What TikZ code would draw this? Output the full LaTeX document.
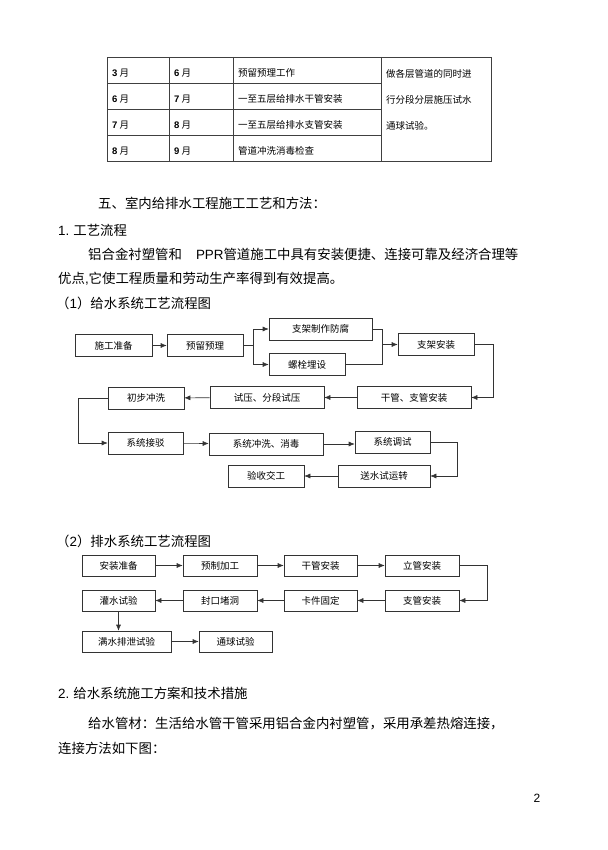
\documentclass[tikz,border=0pt]{standalone}
\usepackage{fontspec}
\setmainfont{Noto Sans CJK SC}
\newfontfamily\latin{Liberation Sans}
\usetikzlibrary{positioning,arrows.meta}

\tikzset{
  flowbox/.style={draw=black!80, line width=0.6pt, minimum height=22pt, inner sep=0pt, font=\fontsize{9.5}{10}\selectfont},
  flowline/.style={draw=black!80, line width=0.6pt, -{Latex[length=6pt,width=5pt]}},
  tableline/.style={draw=black!75, line width=0.7pt},
  bodytext/.style={anchor=west, inner sep=0pt, font=\fontsize{13.4}{14}\selectfont},
  celltext/.style={anchor=west, inner sep=0pt, font=\fontsize{9.5}{10}\selectfont},
}

\begin{document}
\begin{tikzpicture}[x=1pt, y=-1pt]
  \useasboundingbox (0,0) rectangle (607,850);
  \fill [white] (0,0) rectangle (607,850);

  % schedule table
  \draw [tableline] (107,57) rectangle (491,161);
  \draw [tableline] (169,57) -- (169,161) (233,57) -- (233,161) (381,57) -- (381,161);
  \draw [tableline] (107,83) -- (381,83) (107,109) -- (381,109) (107,135) -- (381,135);
  \foreach \a/\b/\w [count=\r] in {3/6/预留预理工作, 6/7/一至五层给排水干管安装, 7/8/一至五层给排水支管安装, 8/9/管道冲洗消毒检查} {
    \node [celltext] (start\r) at (112,{47+26*\r}) {{\latin\bfseries \a} 月};
    \node [celltext] (end\r) at (174,{47+26*\r}) {{\latin\bfseries \b} 月};
    \node [celltext] (work\r) at (238,{47+26*\r}) {\w};
  }
  \node [celltext] (note1) at (386,74) {做各层管道的同时进};
  \node [celltext] (note2) at (386,100) {行分段分层施压试水};
  \node [celltext] (note3) at (386,126) {通球试验。};

  % body text
  \node [bodytext] (sec5) at (98,203) {五、室内给排水工程施工工艺和方法：};
  \node [bodytext] (sub1) at (58,230) {{\latin 1.} 工艺流程};
  \node [bodytext] (para1) at (88,254) {铝合金衬塑管和\hspace{14pt}{\latin PPR}管道施工中具有安装便捷、连接可靠及经济合理等};
  \node [bodytext] (para2) at (58,279) {优点{\latin ,}它使工程质量和劳动生产率得到有效提高。};
  \node [bodytext] (cap1) at (56,303) {（{\latin 1}）给水系统工艺流程图};

  % water supply flow
  \node [flowbox, minimum width=77pt] (prep) at (113.5,345.5) {施工准备};
  \node [flowbox, minimum width=76pt] (embed) at (205,345.5) {预留预理};
  \node [flowbox, minimum width=103pt] (bracketmake) at (320.5,329) {支架制作防腐};
  \node [flowbox, minimum width=76pt] (boltset) at (307,364.5) {螺栓埋设};
  \node [flowbox, minimum width=76pt] (bracket) at (436,344.5) {支架安装};
  \node [flowbox, minimum width=114pt] (mainpipe) at (414,397.5) {干管、支管安装};
  \node [flowbox, minimum width=114pt] (pressure) at (267,397.5) {试压、分段试压};
  \node [flowbox, minimum width=76pt] (preflush) at (146,398) {初步冲洗};
  \node [flowbox, minimum width=75pt] (connect) at (145.5,443) {系统接驳};
  \node [flowbox, minimum width=114pt] (flush) at (266,444) {系统冲洗、消毒};
  \node [flowbox, minimum width=75pt] (debug) at (392.5,442) {系统调试};
  \node [flowbox, minimum width=92pt] (trialrun) at (384,476) {送水试运转};
  \node [flowbox, minimum width=76pt] (accept) at (266,476) {验收交工};
  \coordinate (split) at (253,345.5);
  \coordinate (join) at (382,344.5);

  \draw [flowline] (prep) -- (embed);
  \draw [draw=black!80, line width=0.6pt] (embed) -- (split);
  \draw [flowline] (split) |- (bracketmake);
  \draw [flowline] (split) |- (boltset);
  \draw [draw=black!80, line width=0.6pt] (bracketmake) -| (join);
  \draw [draw=black!80, line width=0.6pt] (boltset) -| (join);
  \draw [flowline] (join) -- (bracket);
  \draw [flowline] (bracket.east) -- ++(19,0) |- (mainpipe.east);
  \draw [flowline] (mainpipe) -- (pressure);
  \draw [flowline] (pressure) -- (preflush);
  \draw [flowline] (preflush.west) -- ++(-29,0) |- (connect.west);
  \draw [flowline] (connect) -- (flush);
  \draw [flowline] (flush.east) -- (flush.east -| debug.west);
  \draw [flowline] (debug.east) -- ++(27,0) |- (trialrun.east);
  \draw [flowline] (trialrun) -- (accept);

  % drainage flow
  \node [bodytext] (cap2) at (56,541) {（{\latin 2}）排水系统工艺流程图};
  \node [flowbox, minimum width=73pt, minimum height=21pt] (ready) at (118.5,565.5) {安装准备};
  \node [flowbox, minimum width=74pt, minimum height=21pt] (prefab) at (220,565.5) {预制加工};
  \node [flowbox, minimum width=73pt, minimum height=21pt] (trunk) at (320.5,565.5) {干管安装};
  \node [flowbox, minimum width=74pt, minimum height=21pt] (riser) at (422,565.5) {立管安装};
  \node [flowbox, minimum width=74pt, minimum height=21pt] (branch) at (422,600.5) {支管安装};
  \node [flowbox, minimum width=73pt, minimum height=21pt] (clamp) at (320.5,600.5) {卡件固定};
  \node [flowbox, minimum width=74pt, minimum height=21pt] (seal) at (220,600.5) {封口堵洞};
  \node [flowbox, minimum width=73pt, minimum height=21pt] (flood) at (118.5,600.5) {灌水试验};
  \node [flowbox, minimum width=89pt, minimum height=21pt] (drain) at (126.5,641.5) {满水排泄试验};
  \node [flowbox, minimum width=73pt, minimum height=21pt] (ballpass) at (235.5,641.5) {通球试验};

  \draw [flowline] (ready) -- (prefab);
  \draw [flowline] (prefab) -- (trunk);
  \draw [flowline] (trunk) -- (riser);
  \draw [flowline] (riser.east) -- ++(28,0) |- (branch.east);
  \draw [flowline] (branch) -- (clamp);
  \draw [flowline] (clamp) -- (seal);
  \draw [flowline] (seal) -- (flood);
  \draw [flowline] (flood.south) -- (flood.south |- drain.north);
  \draw [flowline] (drain) -- (ballpass);

  % section 2
  \node [bodytext] (sub2) at (58,693) {{\latin 2.} 给水系统施工方案和技术措施};
  \node [bodytext] (para3) at (88,724) {给水管材：生活给水管干管采用铝合金内衬塑管，采用承差热熔连接，};
  \node [bodytext] (para4) at (58,748) {连接方法如下图：};
  \node [font=\latin\fontsize{12}{13}\selectfont] (pageno) at (537,798) {2};
\end{tikzpicture}
\end{document}
